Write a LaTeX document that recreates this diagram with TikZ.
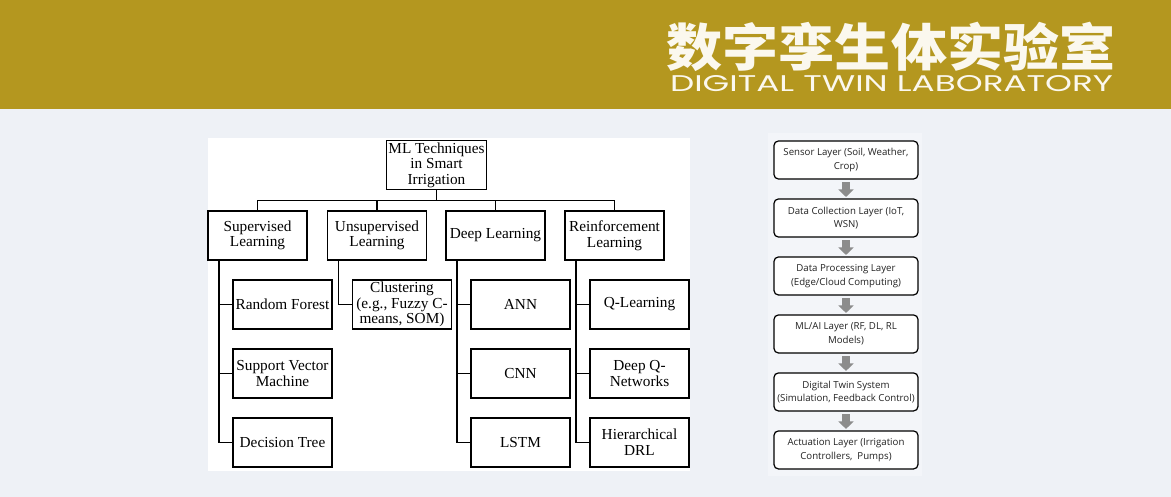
\documentclass[tikz,border=0pt]{standalone}
\usepackage{fontspec}
\usepackage{graphicx}
\setmainfont{Liberation Serif}
\newfontfamily\flowfont{Open Sans}
\newfontfamily\cjkfont{Noto Sans CJK SC}
\newfontfamily\labfont{Poppins}
\definecolor{dtgold}{HTML}{B4971F}
\definecolor{dtback}{HTML}{EEF1F6}
\definecolor{dtpanel}{HTML}{F3F5F9}
\definecolor{dtcream}{HTML}{FBF8EE}
\definecolor{dtgray}{HTML}{8C8C8C}
\definecolor{dtink}{HTML}{222222}
\usetikzlibrary{arrows.meta,positioning}

\begin{document}
\begin{tikzpicture}[
    x=0.02cm, y=-0.02cm,
    mlbox/.style={draw=black, fill=white, line width=0.85pt, outer sep=0pt,
                  minimum width=1.98cm, minimum height=0.98cm,
                  inner xsep=1pt, inner ysep=0.5pt, align=center,
                  font=\fontsize{8.7}{8.9}\selectfont},
    tree/.style={draw=black, line width=0.85pt},
    layer/.style={draw=black, fill=white, rounded corners=2.5pt, line width=0.7pt,
                  outer sep=0pt, minimum width=2.88cm, minimum height=0.76cm, inner sep=1pt,
                  align=center, text=dtink, font=\flowfont\fontsize{5.5}{7.6}\selectfont},
    flow/.style={-{Triangle[width=0.3cm,length=0.15cm]}, dtgray, line width=0.15cm,
                 shorten <=0.07cm, shorten >=0.04cm},
    node distance=0.4cm,
  ]
  % Background and header band
  \fill[dtback] (0,0) rectangle (1171,497);
  \fill[dtgold] (0,0) rectangle (1171,109);
  \node[text=dtcream, inner sep=0pt, font=\cjkfont\bfseries\fontsize{29}{29}\selectfont]
    (title) at (891,46.5) {\scalebox{1.1}[1]{数字孪生体实验室}};
  \node[text=dtcream, inner sep=0pt] (subtitle) at (891.5,83.5)
    {\resizebox{8.86cm}{0.32cm}{\labfont DIGITAL TWIN LABORATORY}};

  % Panels
  \fill[white] (208,138) rectangle (690,471);
  \fill[dtpanel] (768,133) rectangle (922,476);

  % ML techniques tree
  \node[mlbox] (ml)    at (436.5,165)   {ML Techniques\\in Smart\\Irrigation};
  \node[mlbox] (sup)   at (257.5,235.5) {Supervised\\Learning};
  \node[mlbox] (unsup) at (377,235.5)   {Unsupervised\\Learning};
  \node[mlbox] (deep)  at (495.5,235.5) {Deep Learning};
  \node[mlbox] (reinf) at (614.5,235.5) {Reinforcement\\Learning};

  \node[mlbox, below=of sup, xshift=0.5cm]   (rf)    {Random Forest};
  \node[mlbox, below=of rf]                  (svm)   {Support Vector\\Machine};
  \node[mlbox, below=of svm]                 (dtree) {Decision Tree};
  \node[mlbox, below=of unsup, xshift=0.5cm] (clust) {Clustering\\(e.g., Fuzzy C-\\means, SOM)};
  \node[mlbox, below=of deep, xshift=0.5cm]  (ann)   {ANN};
  \node[mlbox, below=of ann]                 (cnn)   {CNN};
  \node[mlbox, below=of cnn]                 (lstm)  {LSTM};
  \node[mlbox, below=of reinf, xshift=0.5cm] (ql)    {Q-Learning};
  \node[mlbox, below=of ql]                  (dqn)   {Deep Q-\\Networks};
  \node[mlbox, below=of dqn]                 (hdrl)  {Hierarchical\\DRL};

  % Tree connectors
  \foreach \k in {sup,unsup,deep,reinf}
    \draw[tree] (ml.south) -- ++(0,11) -| (\k.north);
  \foreach \k in {rf,svm,dtree}
    \draw[tree] ([xshift=0.22cm]sup.south west) |- (\k.west);
  \draw[tree] ([xshift=0.22cm]unsup.south west) |- (clust.west);
  \foreach \k in {ann,cnn,lstm}
    \draw[tree] ([xshift=0.22cm]deep.south west) |- (\k.west);
  \foreach \k in {ql,dqn,hdrl}
    \draw[tree] ([xshift=0.22cm]reinf.south west) |- (\k.west);

  % Layer flowchart
  \node[layer] (sensor) at (846,160)      {Sensor Layer (Soil, Weather,\\Crop)};
  \node[layer, below=of sensor]  (collect) {Data Collection Layer (IoT,\\WSN)};
  \node[layer, below=of collect] (process) {Data Processing Layer\\(Edge/Cloud Computing)};
  \node[layer, below=of process] (mlai)    {ML/AI Layer (RF, DL, RL\\Models)};
  \node[layer, below=of mlai]    (twin)    {Digital Twin System\\(Simulation, Feedback Control)};
  \node[layer, below=of twin]    (act)     {Actuation Layer (Irrigation\\Controllers,~ Pumps)};

  % Flow arrows
  \draw[flow] (sensor) -- (collect);
  \draw[flow] (collect) -- (process);
  \draw[flow] (process) -- (mlai);
  \draw[flow] (mlai) -- (twin);
  \draw[flow] (twin) -- (act);
\end{tikzpicture}
\end{document}
